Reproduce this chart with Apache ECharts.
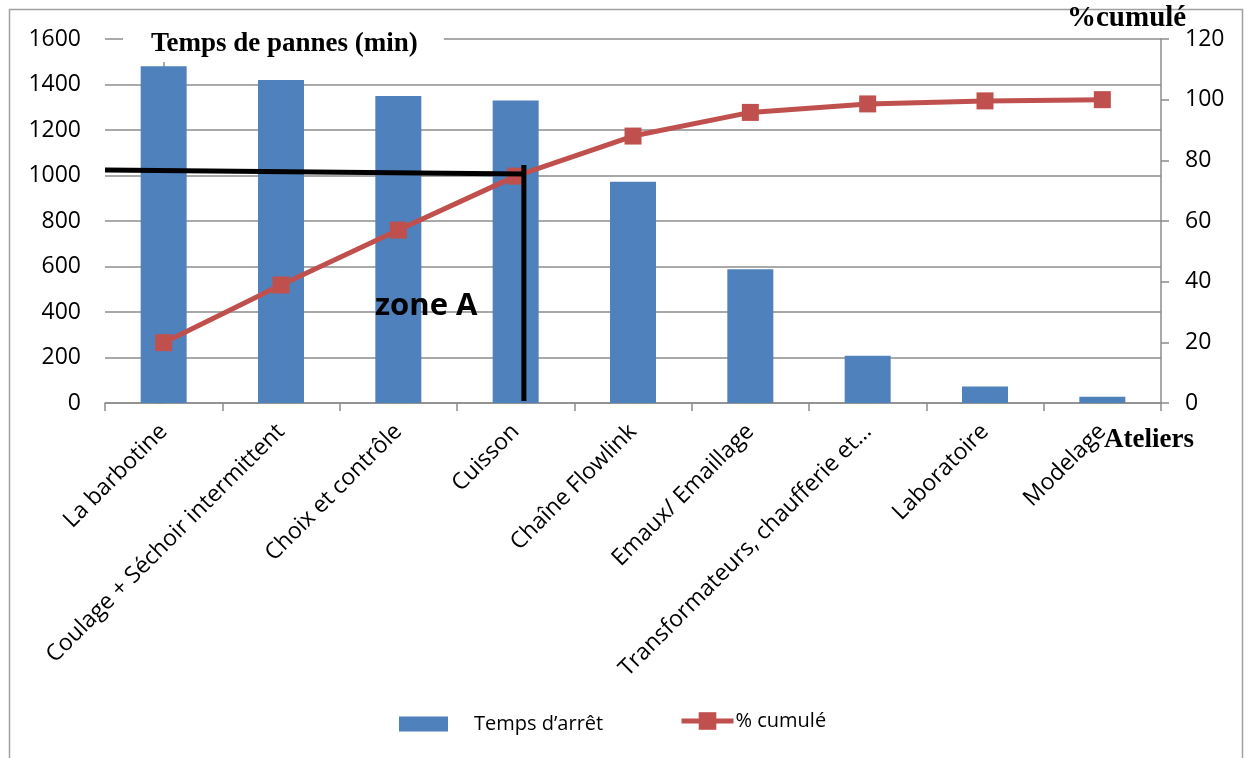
<!DOCTYPE html>
<html lang="fr">
<head>
<meta charset="utf-8">
<title>Temps de pannes par atelier</title>
<script src="https://cdn.jsdelivr.net/npm/echarts@6/dist/echarts.min.js"></script>
<style>
  html, body { margin: 0; padding: 0; background: #fff; }
  #chart { width: 1248px; height: 758px; }
</style>
</head>
<body>
<div id="chart"></div>
<script>
// Ateliers (catégories) et temps d'arrêt en minutes
const ateliers = [
  'La barbotine',
  'Coulage + Séchoir intermittent',
  'Choix et contrôle',
  'Cuisson',
  'Chaîne Flowlink',
  'Emaux/ Emaillage',
  'Transformateurs, chaufferie et…',
  'Laboratoire',
  'Modelage'
];
const tempsArret = [1480, 1420, 1350, 1330, 973, 588, 208, 72, 28];
const pourcentCumule = [19.9, 38.9, 57.0, 74.8, 88.0, 95.8, 98.6, 99.6, 100];

// Graduations des deux axes verticaux
const tempsTicks = { min: 0, max: 1600, interval: 200 };
const pourcentTicks = { min: 0, max: 120, interval: 20 };

// Tracé de la zone A : [position sur l'axe des ateliers, minutes]
const zoneAHorizontale = [[-0.5, 1024], [3.08, 1007]];
const zoneAVerticale = [[3.07, 1046], [3.07, 9]];

const SANS = '"Open Sans", "Noto Sans", sans-serif';
const SERIF = '"Liberation Serif", "DejaVu Serif", serif';
const GRID_GREY = '#8c8c8c';
const BLUE = '#4f81bd';
const RED = '#c0504d';

const chart = echarts.init(document.getElementById('chart'), null, { renderer: 'canvas' });

const plainNumber = v => String(v);

chart.setOption({
  animation: false,
  backgroundColor: '#fff',
  title: [
    {
      text: 'Temps de pannes (min)',
      left: 123,
      top: 27,
      padding: [4, 26, 4, 28],
      backgroundColor: '#fff',
      textStyle: { fontFamily: SERIF, fontWeight: 'bold', fontSize: 27, color: '#000' }
    },
    {
      text: '%cumulé',
      left: 1065,
      top: 2,
      padding: 2,
      textStyle: { fontFamily: SERIF, fontWeight: 'bold', fontSize: 29, color: '#000' }
    }
  ],
  legend: [
    {
      data: ['Temps d’arrêt'],
      left: 394,
      top: 709,
      itemWidth: 49,
      itemHeight: 15,
      icon: 'rect',
      textStyle: { fontFamily: SANS, fontSize: 20, color: '#000', padding: [0, 0, 0, 21] }
    },
    {
      data: ['% cumulé'],
      left: 674,
      top: 706,
      itemWidth: 52,
      itemHeight: 22,
      itemGap: 0,
      lineStyle: { width: 5 },
      textStyle: { fontFamily: SANS, fontSize: 20, color: '#000', padding: [0, 0, 0, -3] }
    }
  ],
  grid: { left: 105, right: 87, top: 39, bottom: 355, containLabel: false },
  xAxis: [
    {
      type: 'category',
      data: ateliers,
      axisLine: { lineStyle: { color: GRID_GREY, width: 1.5 } },
      axisTick: { show: true, length: 8, lineStyle: { color: GRID_GREY, width: 1.5 } },
      axisLabel: {
        interval: 0,
        rotate: 45,
        margin: 25,
        fontFamily: SANS,
        fontSize: 23,
        color: '#000'
      }
    },
    {
      type: 'value',
      min: -0.5,
      max: 8.5,
      show: false
    }
  ],
  yAxis: [
    {
      type: 'value',
      min: tempsTicks.min,
      max: tempsTicks.max,
      interval: tempsTicks.interval,
      axisLine: { show: true, lineStyle: { color: GRID_GREY, width: 1.5 } },
      axisTick: { show: true, length: 8, lineStyle: { color: GRID_GREY, width: 1.5 } },
      axisLabel: { margin: 24, fontFamily: SANS, fontSize: 23, color: '#000', formatter: plainNumber },
      splitLine: { show: true, lineStyle: { color: GRID_GREY, width: 1.5 } }
    },
    {
      type: 'value',
      position: 'right',
      min: pourcentTicks.min,
      max: pourcentTicks.max,
      interval: pourcentTicks.interval,
      axisLine: { show: true, lineStyle: { color: GRID_GREY, width: 1.5 } },
      axisTick: { show: true, length: 8, lineStyle: { color: GRID_GREY, width: 1.5 } },
      axisLabel: { margin: 24, fontFamily: SANS, fontSize: 23, color: '#000', formatter: plainNumber },
      splitLine: { show: false }
    }
  ],
  series: [
    {
      name: 'Temps d’arrêt',
      type: 'bar',
      xAxisIndex: 0,
      yAxisIndex: 0,
      data: tempsArret,
      barWidth: 46,
      itemStyle: { color: BLUE },
      z: 2
    },
    {
      name: '% cumulé',
      type: 'line',
      xAxisIndex: 0,
      yAxisIndex: 1,
      data: pourcentCumule,
      symbol: 'rect',
      symbolSize: 17,
      showAllSymbol: true,
      lineStyle: { color: RED, width: 5 },
      itemStyle: { color: RED },
      z: 3
    },
    {
      name: 'zoneA-h',
      type: 'line',
      xAxisIndex: 1,
      yAxisIndex: 0,
      data: zoneAHorizontale,
      symbol: 'none',
      silent: true,
      lineStyle: { color: '#000', width: 5 },
      z: 5
    },
    {
      name: 'zoneA-v',
      type: 'line',
      xAxisIndex: 1,
      yAxisIndex: 0,
      data: zoneAVerticale,
      symbol: 'none',
      silent: true,
      lineStyle: { color: '#000', width: 5 },
      z: 5
    }
  ],
  graphic: [
    {
      type: 'rect',
      silent: true,
      shape: { x: 9.5, y: 9.5, width: 1233, height: 820 },
      style: { fill: 'none', stroke: '#a0a0a0', lineWidth: 1.5 },
      z: -1
    },
    {
      type: 'text',
      left: 375,
      top: 291,
      style: { text: 'zone A', fontFamily: SANS, fontWeight: 'bold', fontSize: 31, fill: '#000' },
      z: 10
    },
    {
      type: 'text',
      left: 1104,
      top: 427,
      style: { text: 'Ateliers', fontFamily: SERIF, fontWeight: 'bold', fontSize: 27, fill: '#000' },
      z: 10
    }
  ]
});
</script>
</body>
</html>
